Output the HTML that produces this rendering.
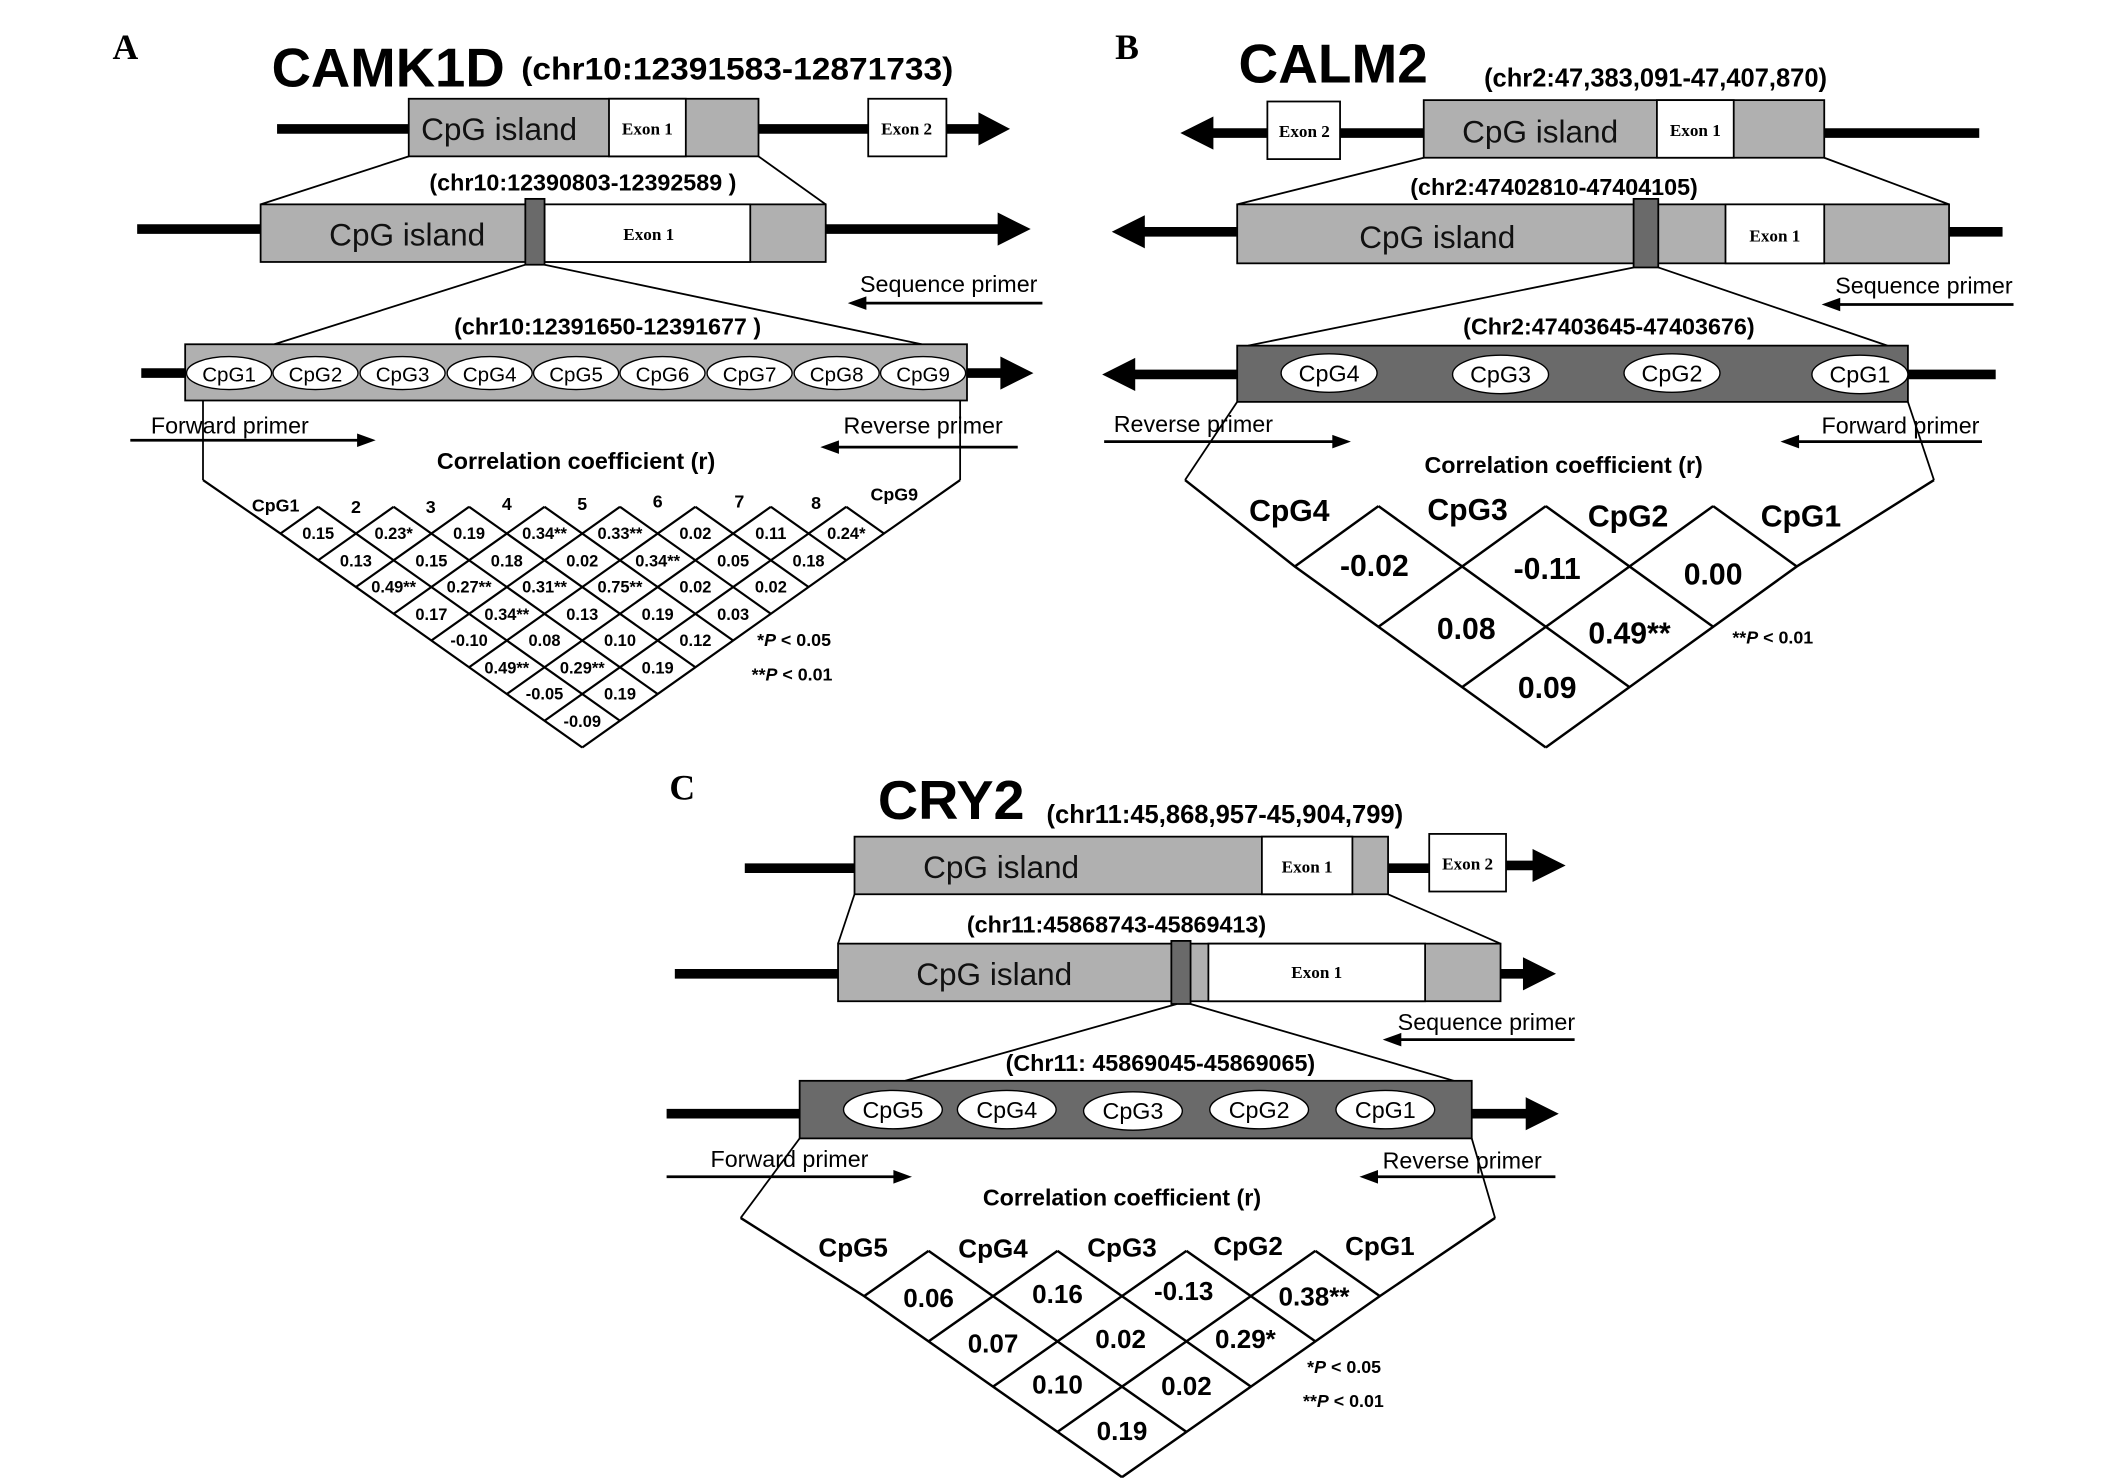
<!DOCTYPE html>
<html><head><meta charset="utf-8"><style>html,body{margin:0;padding:0;background:#fff}svg{display:block}</style></head><body>
<svg width="2126" height="1478" viewBox="0 0 1550 1077.6" preserveAspectRatio="none" xmlns="http://www.w3.org/2000/svg" font-family="Liberation Sans, sans-serif">
<rect width="1550" height="1078" fill="#fff"/>
<g stroke="#000" stroke-width="1.3">
<!-- ===== PANEL A ===== -->
<line x1="202" y1="94" x2="298" y2="94" stroke-width="7"/>
<line x1="553" y1="94" x2="633" y2="94" stroke-width="7"/>
<line x1="690" y1="94" x2="716" y2="94" stroke-width="7"/>
<polygon points="714,83 735,94 714,105" fill="#000"/>
<rect x="298" y="72" width="255" height="42" fill="#b0b0b0"/>
<rect x="444" y="72" width="56" height="42" fill="#fff"/>
<rect x="633" y="72" width="57" height="42" fill="#fff"/>
<line x1="298" y1="114" x2="190" y2="149"/><line x1="553" y1="114" x2="602" y2="149"/>
<line x1="100" y1="167" x2="190" y2="167" stroke-width="7"/>
<line x1="602" y1="167" x2="730" y2="167" stroke-width="7"/>
<polygon points="728,156 750,167 728,178" fill="#000"/>
<rect x="190" y="149" width="412" height="42" fill="#b0b0b0"/>
<rect x="397" y="149" width="150" height="42" fill="#fff"/>
<rect x="383" y="145" width="14" height="48" fill="#6a6a6a"/>
<line x1="383" y1="193" x2="200" y2="251"/><line x1="397" y1="193" x2="672" y2="251"/>
<line x1="622" y1="221" x2="760" y2="221" stroke-width="2"/><polygon points="620,221 631,217 631,225" fill="#000"/>
<line x1="103" y1="272" x2="135" y2="272" stroke-width="7"/>
<line x1="705" y1="272" x2="732" y2="272" stroke-width="7"/>
<polygon points="730,261 752,272 730,283" fill="#000"/>
<rect x="135" y="251" width="570" height="41" fill="#b0b0b0"/>
<g fill="#fff" stroke-width="1">
<ellipse cx="167" cy="272" rx="31" ry="12"/><ellipse cx="230" cy="272" rx="31" ry="12"/><ellipse cx="293.5" cy="272" rx="31" ry="12"/><ellipse cx="357" cy="272" rx="31" ry="12"/><ellipse cx="420" cy="272" rx="31" ry="12"/><ellipse cx="483" cy="272" rx="31" ry="12"/><ellipse cx="546.5" cy="272" rx="31" ry="12"/><ellipse cx="610" cy="272" rx="31" ry="12"/><ellipse cx="673" cy="272" rx="31" ry="12"/>
</g>
<line x1="95" y1="321" x2="262" y2="321" stroke-width="2"/><polygon points="272,321 261,317 261,325" fill="#000"/>
<line x1="610" y1="326" x2="742" y2="326" stroke-width="2"/><polygon points="600,326 611,322 611,330" fill="#000"/>
<line x1="148" y1="292" x2="148" y2="350"/><line x1="700" y1="292" x2="700" y2="350"/>
<g stroke-width="1.6" fill="none">
<polyline points="148,350 204.5,389 424.5,545"/>
<line x1="232" y1="369.5" x2="452" y2="525.5"/><line x1="287" y1="369.5" x2="479.5" y2="506"/><line x1="342" y1="369.5" x2="507" y2="486.5"/><line x1="397" y1="369.5" x2="534.5" y2="467"/><line x1="452" y1="369.5" x2="562" y2="447.5"/><line x1="507" y1="369.5" x2="589.5" y2="428"/><line x1="562" y1="369.5" x2="617" y2="408.5"/><line x1="617" y1="369.5" x2="644.5" y2="389"/>
<polyline points="700,350 644.5,389 424.5,545"/>
<line x1="617" y1="369.5" x2="397" y2="525.5"/><line x1="562" y1="369.5" x2="369.5" y2="506"/><line x1="507" y1="369.5" x2="342" y2="486.5"/><line x1="452" y1="369.5" x2="314.5" y2="467"/><line x1="397" y1="369.5" x2="287" y2="447.5"/><line x1="342" y1="369.5" x2="259.5" y2="428"/><line x1="287" y1="369.5" x2="232" y2="408.5"/><line x1="232" y1="369.5" x2="204.5" y2="389"/>
</g>

<!-- ===== PANEL B ===== -->
<line x1="880" y1="97" x2="924" y2="97" stroke-width="7"/>
<polygon points="884,86 862,97 884,108" fill="#000"/>
<line x1="977" y1="97" x2="1038" y2="97" stroke-width="7"/>
<line x1="1330" y1="97" x2="1443" y2="97" stroke-width="7"/>
<rect x="924" y="74" width="53" height="42" fill="#fff"/>
<rect x="1038" y="73" width="292" height="42" fill="#b0b0b0"/>
<rect x="1208" y="73" width="56" height="42" fill="#fff"/>
<line x1="1038" y1="115" x2="902" y2="149"/><line x1="1330" y1="115" x2="1421" y2="149"/>
<line x1="830" y1="169" x2="902" y2="169" stroke-width="7"/>
<polygon points="834,158 812,169 834,180" fill="#000"/>
<line x1="1421" y1="169" x2="1460" y2="169" stroke-width="7"/>
<rect x="902" y="149" width="519" height="43" fill="#b0b0b0"/>
<rect x="1258" y="149" width="72" height="43" fill="#fff"/>
<rect x="1191" y="145" width="18" height="50" fill="#6a6a6a"/>
<line x1="1191" y1="195" x2="910" y2="252"/><line x1="1209" y1="195" x2="1376" y2="252"/>
<line x1="1340" y1="222" x2="1468" y2="222" stroke-width="2"/><polygon points="1330,222 1341,218 1341,226" fill="#000"/>
<line x1="825" y1="273" x2="902" y2="273" stroke-width="7"/>
<polygon points="827,262 805,273 827,284" fill="#000"/>
<line x1="1391" y1="273" x2="1455" y2="273" stroke-width="7"/>
<rect x="902" y="252" width="489" height="41" fill="#6a6a6a"/>
<g fill="#fff" stroke-width="1">
<ellipse cx="969" cy="272" rx="35" ry="14"/><ellipse cx="1094" cy="273" rx="35" ry="14"/><ellipse cx="1219" cy="272" rx="35" ry="14"/><ellipse cx="1356" cy="273" rx="35" ry="14"/>
</g>
<line x1="805" y1="322" x2="973" y2="322" stroke-width="2"/><polygon points="983,322 972,318 972,326" fill="#000"/>
<line x1="1310" y1="322" x2="1445" y2="322" stroke-width="2"/><polygon points="1300,322 1311,318 1311,326" fill="#000"/>
<line x1="902" y1="293" x2="864" y2="350"/><line x1="1391" y1="293" x2="1410" y2="350"/>
<g stroke-width="1.8" fill="none">
<polyline points="864,350 944,413 1127,545"/>
<line x1="1005" y1="369" x2="1188" y2="501"/><line x1="1127" y1="369" x2="1249" y2="457"/><line x1="1249" y1="369" x2="1310" y2="413"/>
<polyline points="1410,350 1310,413 1127,545"/>
<line x1="1249" y1="369" x2="1066" y2="501"/><line x1="1127" y1="369" x2="1005" y2="457"/><line x1="1005" y1="369" x2="944" y2="413"/>
</g>

<!-- ===== PANEL C ===== -->
<line x1="543" y1="633" x2="623" y2="633" stroke-width="7"/>
<line x1="1012" y1="633" x2="1042" y2="633" stroke-width="7"/>
<line x1="1098" y1="631" x2="1120" y2="631" stroke-width="7"/>
<polygon points="1118,620 1140,631 1118,642" fill="#000"/>
<rect x="623" y="610" width="389" height="42" fill="#b0b0b0"/>
<rect x="920" y="610" width="66" height="42" fill="#fff"/>
<rect x="1042" y="608" width="56" height="42" fill="#fff"/>
<line x1="623" y1="652" x2="611" y2="688"/><line x1="1012" y1="652" x2="1094" y2="688"/>
<line x1="492" y1="710" x2="611" y2="710" stroke-width="7"/>
<line x1="1094" y1="710" x2="1113" y2="710" stroke-width="7"/>
<polygon points="1111,699 1133,710 1111,721" fill="#000"/>
<rect x="611" y="688" width="483" height="42" fill="#b0b0b0"/>
<rect x="881" y="688" width="158" height="42" fill="#fff"/>
<rect x="854" y="686" width="14" height="46" fill="#6a6a6a"/>
<line x1="858" y1="732" x2="660" y2="788"/><line x1="868" y1="732" x2="1060" y2="788"/>
<line x1="1020" y1="758" x2="1148" y2="758" stroke-width="2"/><polygon points="1010,758 1021,754 1021,762" fill="#000"/>
<line x1="486" y1="812" x2="583" y2="812" stroke-width="7"/>
<line x1="1073" y1="812" x2="1115" y2="812" stroke-width="7"/>
<polygon points="1113,801 1135,812 1113,823" fill="#000"/>
<rect x="583" y="788" width="490" height="42" fill="#6a6a6a"/>
<g fill="#fff" stroke-width="1">
<ellipse cx="651" cy="809" rx="36" ry="14"/><ellipse cx="734" cy="809" rx="36" ry="14"/><ellipse cx="826" cy="810" rx="36" ry="14"/><ellipse cx="918" cy="809" rx="36" ry="14"/><ellipse cx="1010" cy="809" rx="36" ry="14"/>
</g>
<line x1="486" y1="858" x2="653" y2="858" stroke-width="2"/><polygon points="663,858 652,854 652,862" fill="#000"/>
<line x1="1003" y1="858" x2="1134" y2="858" stroke-width="2"/><polygon points="993,858 1004,854 1004,862" fill="#000"/>
<line x1="583" y1="830" x2="540" y2="888"/><line x1="1073" y1="830" x2="1090" y2="888"/>
<g stroke-width="1.8" fill="none">
<polyline points="540,888 630,945 818,1077"/>
<line x1="677" y1="912" x2="865" y2="1044"/><line x1="771" y1="912" x2="912" y2="1011"/><line x1="865" y1="912" x2="959" y2="978"/><line x1="959" y1="912" x2="1006" y2="945"/>
<polyline points="1090,888 1006,945 818,1077"/>
<line x1="959" y1="912" x2="771" y2="1044"/><line x1="865" y1="912" x2="724" y2="1011"/><line x1="771" y1="912" x2="677" y2="978"/><line x1="677" y1="912" x2="630" y2="945"/>
</g>
</g>

<!-- ===== TEXT ===== -->
<g font-family="Liberation Serif, serif" font-weight="bold">
<text x="82" y="43" font-size="26">A</text>
<text x="813" y="43" font-size="26">B</text>
<text x="488" y="583" font-size="26">C</text>
<g font-size="12.5" text-anchor="middle">
<text x="472" y="98">Exon 1</text><text x="661" y="98">Exon 2</text><text x="473" y="175">Exon 1</text>
<text x="951" y="100">Exon 2</text><text x="1236" y="99">Exon 1</text><text x="1294" y="176">Exon 1</text>
<text x="953" y="636">Exon 1</text><text x="1070" y="634">Exon 2</text><text x="960" y="713">Exon 1</text>
</g>
</g>
<g font-weight="bold">
<text x="198" y="63" font-size="40" textLength="170" lengthAdjust="spacingAndGlyphs">CAMK1D</text>
<text x="380" y="58" font-size="23" textLength="315" lengthAdjust="spacingAndGlyphs">(chr10:12391583-12871733)</text>
<text x="903" y="60" font-size="40" textLength="138" lengthAdjust="spacingAndGlyphs">CALM2</text>
<text x="1082" y="63" font-size="19" textLength="250" lengthAdjust="spacingAndGlyphs">(chr2:47,383,091-47,407,870)</text>
<text x="640" y="597" font-size="40" textLength="107" lengthAdjust="spacingAndGlyphs">CRY2</text>
<text x="763" y="600" font-size="19" textLength="260" lengthAdjust="spacingAndGlyphs">(chr11:45,868,957-45,904,799)</text>
<g font-size="17" text-anchor="middle">
<text x="425" y="139">(chr10:12390803-12392589 )</text>
<text x="443" y="244">(chr10:12391650-12391677 )</text>
<text x="420" y="342">Correlation coefficient (r)</text>
<text x="1133" y="142">(chr2:47402810-47404105)</text>
<text x="1173" y="244">(Chr2:47403645-47403676)</text>
<text x="1140" y="345">Correlation coefficient (r)</text>
<text x="814" y="680">(chr11:45868743-45869413)</text>
<text x="846" y="781">(Chr11: 45869045-45869065)</text>
<text x="818" y="879">Correlation coefficient (r)</text>
</g>
<!-- A triangle labels -->
<g font-size="13" text-anchor="middle">
<text x="201" y="373">CpG1</text><text x="259.5" y="374">2</text><text x="314" y="374">3</text><text x="369.5" y="372">4</text><text x="424.5" y="372">5</text><text x="479.5" y="370">6</text><text x="539" y="370">7</text><text x="595" y="371">8</text><text x="652" y="365">CpG9</text>
</g>
<g font-size="12" text-anchor="middle">
<text x="232" y="393">0.15</text><text x="287" y="393">0.23*</text><text x="342" y="393">0.19</text><text x="397" y="393">0.34**</text><text x="452" y="393">0.33**</text><text x="507" y="393">0.02</text><text x="562" y="393">0.11</text><text x="617" y="393">0.24*</text>
<text x="259.5" y="413">0.13</text><text x="314.5" y="413">0.15</text><text x="369.5" y="413">0.18</text><text x="424.5" y="413">0.02</text><text x="479.5" y="413">0.34**</text><text x="534.5" y="413">0.05</text><text x="589.5" y="413">0.18</text>
<text x="287" y="432">0.49**</text><text x="342" y="432">0.27**</text><text x="397" y="432">0.31**</text><text x="452" y="432">0.75**</text><text x="507" y="432">0.02</text><text x="562" y="432">0.02</text>
<text x="314.5" y="452">0.17</text><text x="369.5" y="452">0.34**</text><text x="424.5" y="452">0.13</text><text x="479.5" y="452">0.19</text><text x="534.5" y="452">0.03</text>
<text x="342" y="471">-0.10</text><text x="397" y="471">0.08</text><text x="452" y="471">0.10</text><text x="507" y="471">0.12</text>
<text x="369.5" y="491">0.49**</text><text x="424.5" y="491">0.29**</text><text x="479.5" y="491">0.19</text>
<text x="397" y="510">-0.05</text><text x="452" y="510">0.19</text>
<text x="424.5" y="530">-0.09</text>
</g>
<g font-size="13">
<text x="552" y="471">*<tspan font-style="italic">P</tspan> &lt; 0.05</text>
<text x="548" y="496">**<tspan font-style="italic">P</tspan> &lt; 0.01</text>
<text x="1263" y="469">**<tspan font-style="italic">P</tspan> &lt; 0.01</text>
<text x="953" y="1001">*<tspan font-style="italic">P</tspan> &lt; 0.05</text>
<text x="950" y="1026">**<tspan font-style="italic">P</tspan> &lt; 0.01</text>
</g>
<!-- B triangle -->
<g font-size="22" text-anchor="middle">
<text x="940" y="380">CpG4</text><text x="1070" y="379">CpG3</text><text x="1187" y="384">CpG2</text><text x="1313" y="384">CpG1</text>
<text x="1002" y="420">-0.02</text><text x="1128" y="422">-0.11</text><text x="1249" y="426">0.00</text>
<text x="1069" y="466">0.08</text><text x="1188" y="469">0.49**</text>
<text x="1128" y="509">0.09</text>
</g>
<!-- C triangle -->
<g font-size="19" text-anchor="middle">
<text x="622" y="916">CpG5</text><text x="724" y="917">CpG4</text><text x="818" y="916">CpG3</text><text x="910" y="915">CpG2</text><text x="1006" y="915">CpG1</text>
<text x="677" y="953">0.06</text><text x="771" y="950">0.16</text><text x="863" y="948">-0.13</text><text x="958" y="952">0.38**</text>
<text x="724" y="986">0.07</text><text x="817" y="983">0.02</text><text x="908" y="983">0.29*</text>
<text x="771" y="1016">0.10</text><text x="865" y="1017">0.02</text>
<text x="818" y="1050">0.19</text>
</g>
</g>
<!-- Regular labels -->
<g font-size="23" fill="#111">
<text x="307" y="102">CpG island</text><text x="240" y="179">CpG island</text>
<text x="1066" y="104">CpG island</text><text x="991" y="181">CpG island</text>
<text x="673" y="640">CpG island</text><text x="668" y="718">CpG island</text>
</g>
<g font-size="17">
<text x="627" y="213">Sequence primer</text><text x="110" y="316">Forward primer</text><text x="615" y="316">Reverse primer</text>
<text x="1338" y="214">Sequence primer</text><text x="812" y="315">Reverse primer</text><text x="1328" y="316">Forward primer</text>
<text x="1019" y="751">Sequence primer</text><text x="518" y="851">Forward primer</text><text x="1008" y="852">Reverse primer</text>
</g>
<g font-size="15" text-anchor="middle">
<text x="167" y="278">CpG1</text><text x="230" y="278">CpG2</text><text x="293.5" y="278">CpG3</text><text x="357" y="278">CpG4</text><text x="420" y="278">CpG5</text><text x="483" y="278">CpG6</text><text x="546.5" y="278">CpG7</text><text x="610" y="278">CpG8</text><text x="673" y="278">CpG9</text>
</g>
<g font-size="17" text-anchor="middle">
<text x="969" y="278">CpG4</text><text x="1094" y="279">CpG3</text><text x="1219" y="278">CpG2</text><text x="1356" y="279">CpG1</text>
<text x="651" y="815">CpG5</text><text x="734" y="815">CpG4</text><text x="826" y="816">CpG3</text><text x="918" y="815">CpG2</text><text x="1010" y="815">CpG1</text>
</g>
</svg>
</body></html>
